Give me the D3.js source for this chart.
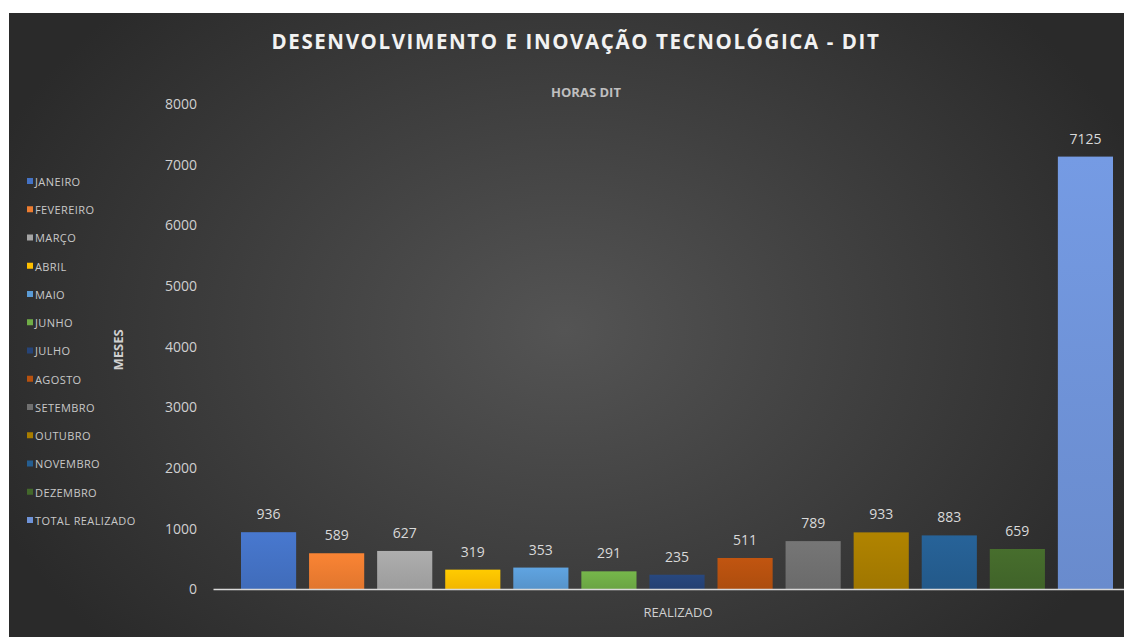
<!DOCTYPE html>
<html><head><meta charset="utf-8">
<script src="https://cdn.jsdelivr.net/npm/d3@7"></script>
<style>html,body{margin:0;padding:0;background:#fff;}svg{display:block;}</style>
</head><body>
<script>
const months = ["JANEIRO","FEVEREIRO","MARÇO","ABRIL","MAIO","JUNHO","JULHO","AGOSTO","SETEMBRO","OUTUBRO","NOVEMBRO","DEZEMBRO","TOTAL REALIZADO"];
const values = [936,589,627,319,353,291,235,511,789,933,883,659,7125];
const colors = ["#4472c4","#ed7d31","#a5a5a5","#ffc000","#5b9bd5","#70ad47","#264478","#b7510f","#707070","#a87d00","#255e91","#43682b","#6f93d8"];
const yTicks = [0,1000,2000,3000,4000,5000,6000,7000,8000];
const title = "DESENVOLVIMENTO E INOVAÇÃO TECNOLÓGICA - DIT";
const subtitle = "HORAS DIT";
const yTitle = "MESES";
const xTitle = "REALIZADO";

const W = 1124, H = 637;
const svg = d3.select("body").append("svg").attr("width", W).attr("height", H);
const defs = svg.append("defs");
const rg = defs.append("radialGradient").attr("id","bg").attr("gradientUnits","userSpaceOnUse")
  .attr("cx",565).attr("cy",330).attr("r",620)
  .attr("gradientTransform","translate(565,330) scale(1,0.75) translate(-565,-330)");
rg.append("stop").attr("offset","0%").attr("stop-color","#545454");
rg.append("stop").attr("offset","100%").attr("stop-color","#2a2a2a");
svg.append("rect").attr("x",9).attr("y",13).attr("width",W-9).attr("height",H-13).attr("fill","url(#bg)");

colors.forEach((c,i)=>{
  const g = defs.append("linearGradient").attr("id","bar"+i).attr("x1",0).attr("y1",0).attr("x2",0).attr("y2",1);
  g.append("stop").attr("offset","0%").attr("stop-color",d3.color(c).brighter(0.15));
  g.append("stop").attr("offset","100%").attr("stop-color",d3.color(c).darker(0.15));
});

const x = d3.scaleBand().domain(months).range([241,1113]).paddingInner(0.19).paddingOuter(0);
const y = d3.scaleLinear().domain([0,8000]).range([589,103.5]);

// title
svg.append("text").attr("x",576).attr("y",49).attr("text-anchor","middle")
  .attr("font-family","Open Sans").attr("font-weight","bold").attr("font-size",20.5)
  .attr("letter-spacing",1.6).attr("fill","#f2f2f2").text(title);
svg.append("text").attr("x",586).attr("y",97).attr("text-anchor","middle")
  .attr("font-family","Open Sans").attr("font-weight","bold").attr("font-size",13)
  .attr("fill","#bfbfbf").text(subtitle);

// y axis labels
const yAxis = d3.axisLeft(y).tickValues(yTicks).tickSize(0).tickPadding(0).tickFormat(d3.format("d"));
const ga = svg.append("g").attr("transform","translate(197,0)").call(yAxis);
ga.select(".domain").remove();
ga.selectAll("text").attr("font-family","Open Sans").attr("font-size",14).attr("fill","#d0d0d0").attr("dy","0.35em");

// bars
svg.append("g").selectAll("rect").data(values).join("rect")
  .attr("x",(d,i)=>x(months[i])).attr("width",x.bandwidth())
  .attr("y",d=>y(d)).attr("height",d=>y(0)-y(d))
  .attr("fill",(d,i)=>"url(#bar"+i+")");

// labels
svg.append("g").selectAll("text").data(values).join("text")
  .attr("x",(d,i)=>x(months[i])+x.bandwidth()/2).attr("y",d=>y(d)-13)
  .attr("text-anchor","middle").attr("font-family","Open Sans").attr("font-size",14)
  .attr("fill","#d9d9d9").text(d=>d);

// x axis line
const xAxis = d3.axisBottom(d3.scaleLinear().domain([0,1]).range([213,W])).tickValues([]).tickSizeOuter(0);
const gx = svg.append("g").attr("transform","translate(0,"+y(0)+")").call(xAxis);
gx.select(".domain").attr("stroke","#d9d9d9").attr("stroke-width",1.5);

svg.append("text").attr("x",678).attr("y",617).attr("text-anchor","middle")
  .attr("font-family","Open Sans").attr("font-size",13).attr("fill","#d0d0d0").text(xTitle);

svg.append("text").attr("transform","translate(123,350) rotate(-90)").attr("text-anchor","middle")
  .attr("font-family","Open Sans").attr("font-weight","bold").attr("font-size",13)
  .attr("fill","#d0d0d0").text(yTitle);

// legend
const lg = svg.append("g").selectAll("g").data(months).join("g")
  .attr("transform",(d,i)=>"translate(27,"+(182+i*28.25)+")");
lg.append("rect").attr("x",0).attr("y",-4).attr("width",6).attr("height",6).attr("fill",(d,i)=>colors[i]);
lg.append("text").attr("x",8).attr("y",0).attr("dy","0.35em").attr("font-family","Open Sans")
  .attr("font-size",11).attr("letter-spacing",0.4).attr("fill","#c8c8c8").text(d=>d);
</script>
</body></html>
